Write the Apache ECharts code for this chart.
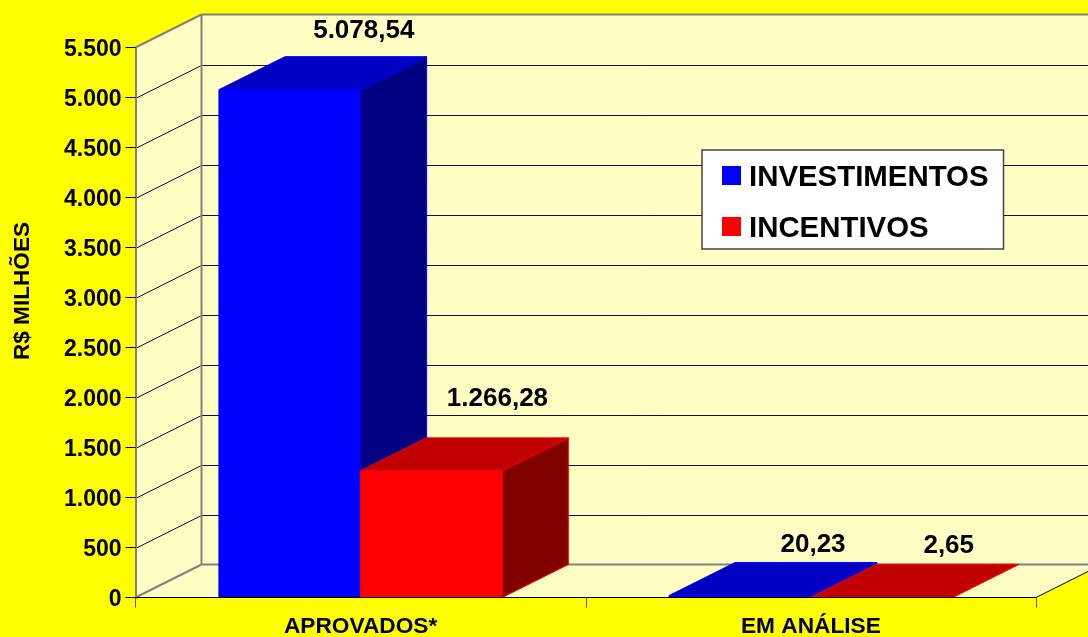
<!DOCTYPE html>
<html><head><meta charset="utf-8">
<style>html,body{margin:0;padding:0;background:#ffff00}#c{width:1088px;height:637px}</style>
<script src="https://cdn.jsdelivr.net/npm/echarts@6/dist/echarts.min.js"></script>
</head><body><div id="c"></div>
<script>
const categories = ['APROVADOS*', 'EM ANÁLISE'];
const investimentos = [5078.54, 20.23];
const incentivos = [1266.28, 2.65];
const investimentosLabels = ['5.078,54', '20,23'];
const incentivosLabels = ['1.266,28', '2,65'];
const yTickValues = [0, 500, 1000, 1500, 2000, 2500, 3000, 3500, 4000, 4500, 5000, 5500];
const yTickLabels = ['0', '500', '1.000', '1.500', '2.000', '2.500', '3.000', '3.500', '4.000', '4.500', '5.000', '5.500'];

const FONT = '"Liberation Sans", Arial, sans-serif';
const DX = 66, DY = -33;
const BAR_FRAC = 0.3147;
const WALL = '#FFFFC4', GRAY = '#808080';

function poly(points, fill, stroke, lw) {
  return { type: 'polygon', shape: { points }, style: { fill, stroke: stroke || fill, lineWidth: lw === undefined ? 1 : lw } };
}
function line(x1, y1, x2, y2, stroke, lw) {
  return { type: 'line', shape: { x1, y1, x2, y2 }, style: { stroke, lineWidth: lw || 1 } };
}

function renderWalls(params, api) {
  const r = params.coordSys;
  const x0 = r.x, x1 = r.x + r.width, yb = r.y + r.height, yt = r.y;
  const c = [];
  c.push(poly([[x0 + DX, yt + DY], [x1 + DX, yt + DY], [x1 + DX, yb + DY], [x0 + DX, yb + DY]], WALL, WALL, 0));
  c.push(poly([[x0, yt], [x0 + DX, yt + DY], [x0 + DX, yb + DY], [x0, yb]], WALL, WALL, 0));
  c.push(poly([[x0, yb], [x1, yb], [x1 + DX, yb + DY], [x0 + DX, yb + DY]], WALL, WALL, 0));
  yTickValues.forEach(function (v) {
    const y = Math.round(api.coord([0, v])[1]) + 0.5;
    if (v > 0 && v < 5500) {
      c.push(line(x0, y, x0 + DX, y + DY, '#111', 1));
      c.push(line(x0 + DX, y + DY, x1 + DX, y + DY, '#111', 1));
    }
  });
  c.push(line(x0 + DX, yt + DY, x0 + DX, yb + DY, GRAY, 2));
  c.push(line(x0 + DX, yt + DY, x1 + DX, yt + DY, GRAY, 2));
  c.push(line(x0, yt, x0 + DX, yt + DY, GRAY, 2));
  c.push(line(x0 + DX, yb + DY, x1 + DX, yb + DY, GRAY, 2));
  c.push(line(x0, yb, x0 + DX, yb + DY, GRAY, 2));
  c.push(line(x1, yb, x1 + DX, yb + DY, '#000', 1));
  return { type: 'group', children: c };
}

function barRenderer(side, front, top, right, labels, labelOffsets) {
  return function (params, api) {
    const i = api.value(0), v = api.value(1);
    const p = api.coord([i, v]), b = api.coord([i, 0]);
    const w = api.size([1, 0])[0] * BAR_FRAC;
    const xa = side < 0 ? p[0] - w : p[0], xb = xa + w;
    const yt = p[1], yb = b[1];
    const off = labelOffsets[i];
    return { type: 'group', children: [
      poly([[xa, yt], [xb, yt], [xb, yb], [xa, yb]], front, front),
      poly([[xa, yt], [xb, yt], [xb + DX, yt + DY], [xa + DX, yt + DY]], top, front),
      poly([[xb, yt], [xb + DX, yt + DY], [xb + DX, yb + DY], [xb, yb]], right, front),
      { type: 'text', style: { text: labels[i], x: (xa + xb) / 2 + DX + off[0], y: yt + DY + off[1],
        align: 'center', verticalAlign: 'middle', fill: '#000', font: 'bold 26px ' + FONT } }
    ] };
  };
}

const chart = echarts.init(document.getElementById('c'), null, { renderer: 'canvas' });
chart.setOption({
  animation: false,
  backgroundColor: '#FFFF00',
  grid: { left: 135.5, right: 52, top: 47.5, bottom: 39.5, containLabel: false, outerBoundsMode: 'none' },
  xAxis: {
    type: 'category', data: categories, z: 5,
    axisLine: { lineStyle: { color: '#000', width: 1 } },
    axisTick: { show: true, length: 10, alignWithLabel: false, lineStyle: { color: '#555', width: 1 } },
    axisLabel: { color: '#000', fontFamily: FONT, fontWeight: 'bold', fontSize: 22.7, margin: 18, interval: 0 },
    splitLine: { show: false }
  },
  yAxis: {
    type: 'value', min: 0, max: 5500, interval: 500, z: 5,
    name: 'R$ MILHÕES', nameLocation: 'middle', nameGap: 101,
    nameTextStyle: { color: '#000', fontFamily: FONT, fontWeight: 'bold', fontSize: 22.6, padding: [0, 0, 0, 63] },
    axisLine: { show: true, lineStyle: { color: GRAY, width: 2 } },
    axisTick: { show: true, length: 10, lineStyle: { color: '#000', width: 1 } },
    axisLabel: { color: '#000', fontFamily: FONT, fontWeight: 'bold', fontSize: 23, margin: 14,
      rich: { t: { color: '#000', fontFamily: FONT, fontWeight: 'bold', fontSize: 23, padding: [4, 0, 0, 0] } },
      formatter: function (v) { return '{t|' + yTickLabels[yTickValues.indexOf(v)] + '}'; } },
    splitLine: { show: false }
  },
  legend: {
    orient: 'vertical', left: 702, top: 150, icon: 'rect', itemWidth: 19, itemHeight: 19, itemGap: 22,
    data: ['INVESTIMENTOS', 'INCENTIVOS'],
    backgroundColor: '#fff', borderColor: '#444', borderWidth: 1.5, borderRadius: 0,
    padding: [13, 15, 6, 20],
    formatter: '{t|{name}}',
    textStyle: { color: '#000', fontFamily: FONT, fontWeight: 'bold', fontSize: 29.4,
      rich: { t: { color: '#000', fontFamily: FONT, fontWeight: 'bold', fontSize: 29.4, padding: [4, 0, 0, 3] } } },
    itemStyle: { borderWidth: 0 }, selectedMode: false
  },
  series: [
    { type: 'custom', name: 'walls', silent: true, z: 0, data: [[0, 0]], encode: { x: 0, y: 1 }, renderItem: renderWalls },
    { type: 'custom', name: 'INVESTIMENTOS', z: 2, itemStyle: { color: '#0000FF' },
      data: investimentos.map(function (v, i) { return [i, v]; }), encode: { x: 0, y: 1 },
      renderItem: barRenderer(-1, '#0000FF', '#0000C0', '#000080', investimentosLabels, [[8, -26], [7, -18]]) },
    { type: 'custom', name: 'INCENTIVOS', z: 3, itemStyle: { color: '#FF0000' },
      data: incentivos.map(function (v, i) { return [i, v]; }), encode: { x: 0, y: 1 },
      renderItem: barRenderer(1, '#FF0000', '#C00000', '#800000', incentivosLabels, [[0, -39], [1, -18]]) }
  ]
});
</script></body></html>
